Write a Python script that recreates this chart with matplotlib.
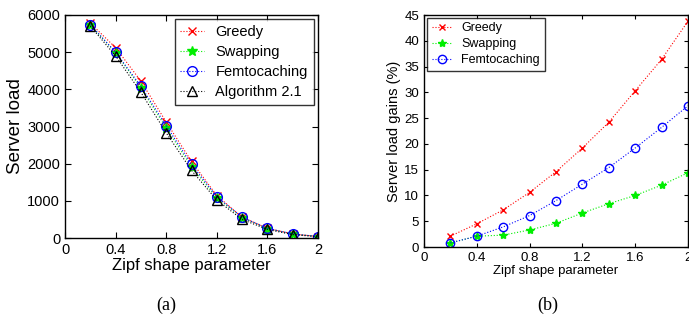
import numpy as np
import matplotlib
matplotlib.use('Agg')
import matplotlib.pyplot as plt

plt.rcParams['font.family'] = ['Liberation Sans', 'DejaVu Sans']

# Data
zipf = [0.2, 0.4, 0.6, 0.8, 1.0, 1.2, 1.4, 1.6, 1.8, 2.0]

load_greedy = [5780, 5120, 4220, 3120, 2060, 1140, 560, 260, 110, 40]
load_swapping = [5730, 4990, 4040, 2960, 1920, 1080, 550, 255, 105, 40]
load_femto = [5740, 5000, 4080, 3020, 1980, 1110, 560, 260, 110, 40]
load_alg = [5700, 4900, 3920, 2830, 1820, 1020, 500, 230, 90, 35]

gain_greedy = [2.1, 4.5, 7.2, 10.6, 14.6, 19.2, 24.2, 30.3, 36.4, 43.8]
gain_swapping = [0.8, 2.1, 2.3, 3.3, 4.6, 6.6, 8.4, 10.0, 12.0, 14.4]
gain_femto = [0.8, 2.1, 3.9, 6.1, 9.0, 12.2, 15.4, 19.2, 23.2, 27.4]

xticks = [0, 0.4, 0.8, 1.2, 1.6, 2]
xticklabels = ['0', '0.4', '0.8', '1.2', '1.6', '2']

fig = plt.figure(figsize=(6.89, 3.30), dpi=100)
ax1 = fig.add_axes([65 / 689, 92 / 330, 253 / 689, 223 / 330])
ax2 = fig.add_axes([424 / 689, 83 / 330, 264 / 689, 232 / 330])

lw = 0.8
ms = 6

# (a) server load
ax1.plot(zipf, load_greedy, ':', color='red', lw=lw, marker='x', ms=ms, mew=1.0, label='Greedy')
ax1.plot(zipf, load_swapping, ':', color='#00ee00', lw=lw, marker='*', ms=ms + 1, mew=1.0, label='Swapping')
ax1.plot(zipf, load_femto, ':', color='blue', lw=lw, marker='o', ms=ms + 1, mew=1.0, mfc='none', label='Femtocaching')
ax1.plot(zipf, load_alg, ':', color='black', lw=lw, marker='^', ms=ms + 1, mew=1.0, mfc='none', label='Algorithm 2.1')
ax1.set_xlim(0, 2)
ax1.set_ylim(0, 6000)
ax1.set_xticks(xticks)
ax1.set_xticklabels(xticklabels)
ax1.set_yticks(range(0, 6001, 1000))
ax1.tick_params(direction='in', top=True, right=True, labelsize=10.5, length=4)
ax1.set_xlabel('Zipf shape parameter', fontsize=12, labelpad=1)
ax1.set_ylabel('Server load', fontsize=13.5, labelpad=2)
leg1 = ax1.legend(loc='upper right', fontsize=10.5, fancybox=False, edgecolor='black',
                  borderaxespad=0.3, handlelength=1.6, labelspacing=0.4)
leg1.get_frame().set_linewidth(1.0)

# (b) server load gains
ax2.plot(zipf, gain_greedy, ':', color='red', lw=lw, marker='x', ms=5, mew=1.0, label='Greedy')
ax2.plot(zipf, gain_swapping, ':', color='#00ee00', lw=lw, marker='*', ms=6, mew=1.0, label='Swapping')
ax2.plot(zipf, gain_femto, ':', color='blue', lw=lw, marker='o', ms=6, mew=1.0, mfc='none', label='Femtocaching')
ax2.set_xlim(0, 2)
ax2.set_ylim(0, 45)
ax2.set_xticks(xticks)
ax2.set_xticklabels(xticklabels)
ax2.set_yticks(range(0, 46, 5))
ax2.tick_params(direction='in', top=True, right=True, labelsize=9.5, length=3)
ax2.set_xlabel('Zipf shape parameter', fontsize=9.5, labelpad=1)
ax2.set_ylabel('Server load gains (%)', fontsize=10.5, labelpad=2)
leg2 = ax2.legend(loc='upper left', fontsize=9, fancybox=False, edgecolor='black',
                  borderaxespad=0.2, handlelength=1.6, labelspacing=0.3)
leg2.get_frame().set_linewidth(1.0)

for ax in (ax1, ax2):
    for sp in ax.spines.values():
        sp.set_linewidth(1.0)

fig.text(0.241, 0.076, '(a)', fontsize=13, family=['Liberation Serif', 'DejaVu Serif'], ha='center', va='center')
fig.text(0.795, 0.076, '(b)', fontsize=13, family=['Liberation Serif', 'DejaVu Serif'], ha='center', va='center')

fig.savefig('out.png', dpi=100)
